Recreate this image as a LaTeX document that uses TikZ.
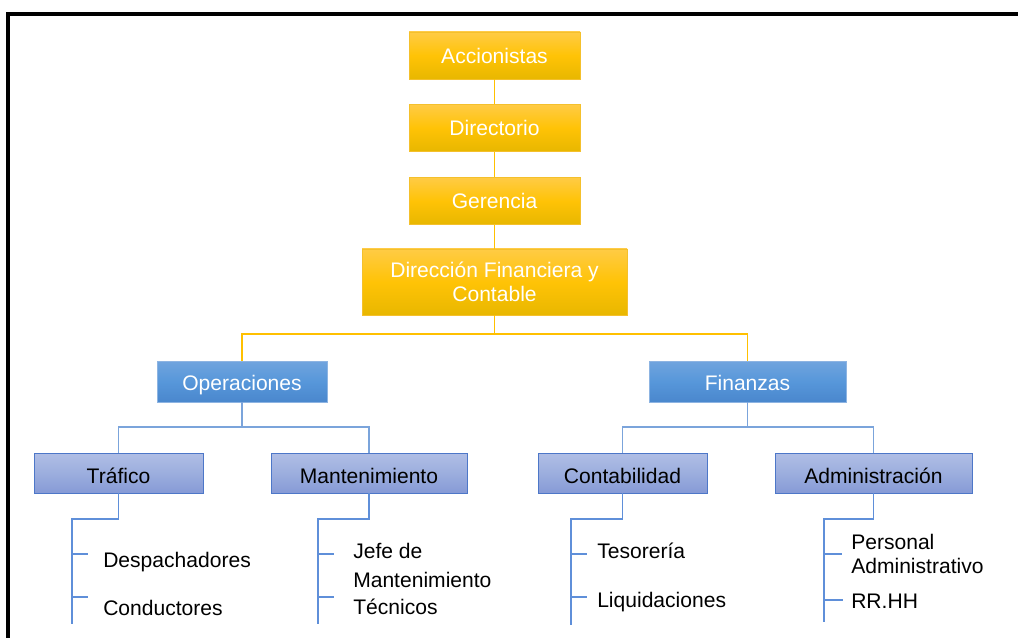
\documentclass[tikz,border=0pt]{standalone}
\usepackage{fontspec}
\setmainfont{Liberation Sans}
\definecolor{gold}{HTML}{FFC306}
\definecolor{goldtop}{HTML}{FFCB45}
\definecolor{goldbot}{HTML}{E8B700}
\definecolor{goldedge}{HTML}{F4C02C}
\definecolor{goldline}{HTML}{FFC000}
\definecolor{bluetop}{HTML}{70A4DE}
\definecolor{bluemid}{HTML}{5797DA}
\definecolor{bluebot}{HTML}{4A87CD}
\definecolor{blueedge}{HTML}{8DB4E2}
\definecolor{lavtop}{HTML}{B0BEE5}
\definecolor{lavmid}{HTML}{9CAEDE}
\definecolor{lavbot}{HTML}{869AD6}
\definecolor{lavedge}{HTML}{4D77C8}
\definecolor{linkblue}{HTML}{7BA4DB}
\definecolor{treeblue}{HTML}{5F8FD9}
\begin{document}
\begin{tikzpicture}[x=0.75pt,y=-0.75pt,
  txt/.style={font=\fontsize{15.8}{18}\selectfont},
  box/.style={rectangle, inner sep=0pt, align=center, txt},
  mgmt/.style={box, draw=goldedge, line width=0.6pt, top color=goldtop,
    bottom color=goldbot, middle color=gold, text=white,
    minimum width=128.25pt, minimum height=35.25pt},
  dept/.style={box, draw=blueedge, line width=0.6pt, top color=bluetop,
    bottom color=bluebot, middle color=bluemid, text=white,
    minimum height=30.75pt, text height=13.5pt, text depth=0.7pt},
  unit/.style={box, draw=lavedge, line width=0.6pt, top color=lavtop,
    bottom color=lavbot, middle color=lavmid, text=black,
    minimum height=30pt, text height=16pt, text depth=0.5pt},
  item/.style={txt, anchor=base west, inner sep=0pt, align=left},
  yline/.style={draw=goldline, line width=1.1pt},
  bline/.style={draw=linkblue, line width=1.1pt},
  tline/.style={draw=treeblue, line width=1.1pt}]
\useasboundingbox (0,0) rectangle (1018,638);
\fill[white] (0,0) rectangle (1018,638);

% outer frame (top and left edges)
\draw[line width=3pt, line cap=rect] (8,638) -- (8,14) -- (1018,14);

% management chain
\node[mgmt] (acc) at (494.5,55.5) {Accionistas};
\node[mgmt] (dir) at (494.5,128) {Directorio};
\node[mgmt] (ger) at (494.5,201) {Gerencia};
\node[mgmt, minimum width=198.75pt, minimum height=49.5pt,
  font=\fontsize{15.8}{17.5}\selectfont] (dfc) at (494.5,282)
  {Dirección Financiera y\\Contable};

% departments
\node[dept, minimum width=127.5pt] (ope) at (242,381.5) {Operaciones};
\node[dept, minimum width=147.75pt] (fin) at (747.5,381.5) {Finanzas};

% units
\node[unit, minimum width=126.75pt] (tra) at (118.5,473) {Tráfico};
\node[unit, minimum width=147pt] (man) at (369,473) {Mantenimiento};
\node[unit, minimum width=126.75pt] (con) at (622.5,473) {Contabilidad};
\node[unit, minimum width=147.75pt] (adm) at (873.5,473) {Administración};

% connectors
\draw[yline] (acc) -- (dir);
\draw[yline] (dir) -- (ger);
\draw[yline] (ger) -- (dfc);
\coordinate (busA) at (494.5,334);
\draw[yline] (dfc.south) -- (busA);
\draw[yline] (ope.north) |- (busA) -| (fin.north);

\coordinate (busO) at (242,427);
\draw[bline] (ope.south) -- (busO);
\draw[bline] (tra.north) |- (busO) -| (man.north);
\coordinate (busF) at (747.5,427);
\draw[bline] (fin.south) -- (busF);
\draw[bline] (con.north) |- (busF) -| (adm.north);

% lists under each unit
\coordinate (traK) at (72,519);  \coordinate (traE) at (72,624);
\coordinate (manK) at (318,519); \coordinate (manE) at (318,624);
\coordinate (conK) at (571,519); \coordinate (conE) at (571,625);
\coordinate (admK) at (824,519); \coordinate (admE) at (824,622);

\draw[tline] (tra.south) |- (traK) -- (traE);
\draw[tline] (man.south) |- (manK) -- (manE);
\draw[tline] (con.south) |- (conK) -- (conE);
\draw[tline] (adm.south) |- (admK) -- (admE);

\coordinate (t1) at (72,554);  \coordinate (t2) at (72,597);
\coordinate (m1) at (318,554); \coordinate (m2) at (318,597);
\coordinate (c1) at (571,554); \coordinate (c2) at (571,597);
\coordinate (a1) at (824,554); \coordinate (a2) at (824,600);
\foreach \p/\l in {t1/16,t2/16,m1/16,m2/16,c1/16,c2/16,a1/18,a2/19}
  \draw[tline] (\p) -- ++(\l,0);

% list entries (multi-line entries are placed by their last baseline)
\node[item] (desp) at (103,567) {Despachadores};
\node[item] (cond) at (103,615) {Conductores};
\node[item, font=\fontsize{15.8}{21.5}\selectfont] (jefe) at (353,587) {Jefe de\\Mantenimiento};
\node[item] (tecn) at (353,614) {Técnicos};
\node[item] (teso) at (597,558) {Tesorería};
\node[item] (liqu) at (597,607) {Liquidaciones};
\node[item] (pers) at (851,573) {Personal\\Administrativo};
\node[item] (rrhh) at (851,608) {RR.HH};
\end{tikzpicture}
\end{document}
